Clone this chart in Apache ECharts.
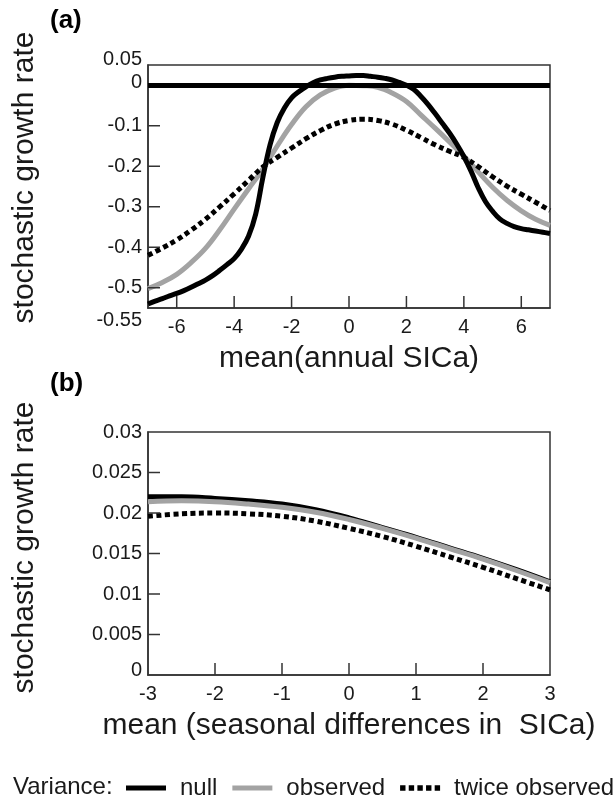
<!DOCTYPE html>
<html>
<head>
<meta charset="utf-8">
<script src="https://cdn.jsdelivr.net/npm/echarts@6/dist/echarts.min.js"></script>
<style>
html,body{margin:0;padding:0;background:#fff;}
#chart{width:616px;height:801px;}
</style>
</head>
<body>
<div id="chart"></div>
<script>
// ---------- Panel (a) data ----------
const xNullA = [-7,-6.75,-6.5,-6.25,-6,-5.75,-5.5,-5.25,-5,-4.75,-4.5,-4.25,-4,-3.75,-3.5,-3.25,-3,-2.75,-2.5,-2.25,-2,-1.75,-1.5,-1.25,-1,-0.75,-0.5,-0.25,0,0.25,0.5,0.75,1,1.25,1.5,1.75,2,2.25,2.5,2.75,3,3.25,3.5,3.75,4,4.25,4.5,4.75,5,5.25,5.5,5.75,6,6.25,6.5,6.75,7];
const nullA = [-0.540,-0.533,-0.527,-0.520,-0.514,-0.507,-0.499,-0.490,-0.481,-0.470,-0.457,-0.443,-0.428,-0.405,-0.373,-0.318,-0.228,-0.147,-0.092,-0.056,-0.031,-0.016,-0.004,0.006,0.013,0.017,0.020,0.022,0.023,0.024,0.024,0.022,0.020,0.017,0.013,0.007,0.000,-0.010,-0.027,-0.047,-0.070,-0.094,-0.118,-0.145,-0.176,-0.212,-0.253,-0.287,-0.311,-0.330,-0.341,-0.349,-0.354,-0.357,-0.360,-0.363,-0.366];
const xA = [-7,-6.5,-6,-5.5,-5,-4.5,-4,-3.5,-3,-2.5,-2,-1.5,-1,-0.5,0,0.5,1,1.5,2,2.5,3,3.5,4,4.5,5,5.5,6,6.5,7];
const observedA = [-0.502,-0.487,-0.467,-0.438,-0.403,-0.357,-0.306,-0.256,-0.207,-0.150,-0.097,-0.053,-0.024,-0.007,0.000,-0.001,-0.005,-0.019,-0.040,-0.073,-0.106,-0.140,-0.175,-0.214,-0.252,-0.284,-0.310,-0.331,-0.346];
const twiceA = [-0.420,-0.402,-0.382,-0.358,-0.331,-0.300,-0.268,-0.235,-0.202,-0.178,-0.155,-0.132,-0.112,-0.096,-0.087,-0.084,-0.087,-0.096,-0.111,-0.129,-0.147,-0.163,-0.178,-0.201,-0.226,-0.249,-0.269,-0.289,-0.309];
const xRangeA = [-7, 7];
const yRangeA = [-0.55, 0.05];
const xTicksA = [-6,-4,-2,0,2,4,6];
const yLabelsA = [0.05,0,-0.1,-0.2,-0.3,-0.4,-0.5,-0.55];
const yTicksA = [-0.1,-0.2,-0.3,-0.4,-0.5];

// ---------- Panel (b) data ----------
const xB = [-3,-2.5,-2,-1.5,-1,-0.5,0,0.5,1,1.5,2,2.5,3];
const nullB = [0.0220,0.0220,0.0218,0.0215,0.0211,0.0204,0.0194,0.0182,0.0170,0.0157,0.0144,0.0130,0.0115];
const observedB = [0.0214,0.0215,0.0214,0.0211,0.0207,0.0201,0.0192,0.0181,0.0169,0.0156,0.0143,0.0129,0.0114];
const twiceB = [0.0196,0.0199,0.0200,0.0199,0.0196,0.0190,0.0181,0.0171,0.0159,0.0146,0.0133,0.0119,0.0105];
const xRangeB = [-3, 3];
const yRangeB = [0, 0.03];
const xLabelsB = [-3,-2,-1,0,1,2,3];
const xTicksB = [-2,-1,0,1,2];
const yLabelsB = [0,0.005,0.01,0.015,0.02,0.025,0.03];
const yTicksB = [0.005,0.01,0.015,0.02,0.025];

const FONT = "'Liberation Sans', Arial, Helvetica, sans-serif";
const TXT = '#1a1a1a';
const AX = '#333';
const GRAY = '#a3a3a3';
const TICK_LEN = 12;

function pairs(xs, ys){ return xs.map((x,i)=>[x, ys[i]]); }

const richShift = {
  up6:{padding:[0,0,12,0], fontFamily:FONT, fontSize:20, color:TXT},
  up3:{padding:[0,0,6,0], fontFamily:FONT, fontSize:20, color:TXT},
  up5:{padding:[0,0,10,0], fontFamily:FONT, fontSize:20, color:TXT},
  dn12:{padding:[24,0,0,0], fontFamily:FONT, fontSize:20, color:TXT}
};
const lineStyleAx = {color:AX, width:1.5};

function mainAxis(grid, range, pos, labels, name, gap, namePad, fmt){
  return {
    type:'value', gridIndex:grid, min:range[0], max:range[1], position:pos,
    name, nameLocation:'middle', nameGap:gap,
    nameTextStyle:{fontFamily:FONT, fontSize:30, color:TXT, padding:[0,0,0,namePad]},
    splitLine:{show:false},
    axisLine:{show:true, onZero:false, lineStyle:lineStyleAx},
    axisTick:{show:false},
    axisLabel:{customValues:labels, margin:(pos === 'left' ? 6 : 9), fontFamily:FONT, fontSize:20, color:TXT,
      rich:richShift, formatter: fmt || (v => String(v))}
  };
}

// inward tick marks, placed through the axes' own scales (api.coord)
function tickSeries(grid, values, dim, otherMin){
  return {
    type:'custom', xAxisIndex:grid, yAxisIndex:grid, silent:true, clip:false, z:5,
    data: values.map(v => dim === 'x' ? [v, otherMin] : [otherMin, v]),
    renderItem: (params, api) => {
      const p = api.coord([api.value(0), api.value(1)]);
      const shape = dim === 'x'
        ? {x1:p[0], y1:p[1], x2:p[0], y2:p[1] - TICK_LEN}
        : {x1:p[0], y1:p[1], x2:p[0] + TICK_LEN, y2:p[1]};
      return {type:'line', shape, style:{stroke:AX, lineWidth:1.5}};
    }
  };
}

const chart = echarts.init(document.getElementById('chart'), null, {renderer:'canvas'});
const option = {
  animation:false,
  backgroundColor:'#fff',
  grid:[
    {left:148, top:65, width:402, height:243, show:true, borderColor:AX, borderWidth:1.5, backgroundColor:'transparent'},
    {left:148, top:432, width:402, height:243, show:true, borderColor:AX, borderWidth:1.5, backgroundColor:'transparent'}
  ],
  xAxis:[
    mainAxis(0, xRangeA, 'bottom', xTicksA, 'mean(annual SICa)', 36, 0),
    mainAxis(1, xRangeB, 'bottom', xLabelsB, 'mean (seasonal differences in  SICa)', 36, 0)
  ],
  yAxis:[
    mainAxis(0, yRangeA, 'left', yLabelsA, 'stochastic growth rate', 108, 18, v => {
      const s = String(v);
      if (Math.abs(v - 0.05) < 1e-9) return '{up6|' + s + '}';
      if (v === 0) return '{up3|' + s + '}';
      if (Math.abs(v + 0.55) < 1e-9) return '{dn12|' + s + '}';
      return s;
    }),
    mainAxis(1, yRangeB, 'left', yLabelsB, 'stochastic growth rate', 108, 12, v => {
      const s = String(v);
      return v === 0 ? '{up5|' + s + '}' : s;
    })
  ],
  legend:{
    data:[
      {name:'null', icon:'path://M0,0H40V5H0Z'},
      {name:'observed', icon:'path://M0,0H40V5H0Z'},
      {name:'twice observed', icon:'path://M0,0H5V5H0Z M8,0H13V5H8Z M16,0H21V5H16Z M24,0H29V5H24Z M32,0H37V5H32Z'}
    ],
    left:126, top:776, padding:0, itemWidth:40, itemHeight:14, itemGap:15,
    selectedMode:false,
    textStyle:{fontFamily:FONT, fontSize:24, color:TXT, padding:[0,0,0,9]}
  },
  graphic:[
    {type:'text', left:50, top:8, style:{text:'(a)', font:"bold 26px "+FONT, fill:'#000'}},
    {type:'text', left:50, top:371, style:{text:'(b)', font:"bold 26px "+FONT, fill:'#000'}},
    {type:'text', left:13, top:775, style:{text:'Variance:', font:"24px "+FONT, fill:TXT}}
  ],
  series:[
    {name:'observed', type:'line', xAxisIndex:0, yAxisIndex:0, data:pairs(xA, observedA), smooth:0.4, symbol:'none', silent:true,
     itemStyle:{color:GRAY}, lineStyle:{color:GRAY, width:5}},
    {name:'null', type:'line', xAxisIndex:0, yAxisIndex:0, data:pairs(xNullA, nullA), smooth:0.4, symbol:'none', silent:true,
     itemStyle:{color:'#000'}, lineStyle:{color:'#000', width:5},
     markLine:{silent:true, symbol:'none', label:{show:false}, lineStyle:{color:'#000', width:5, type:'solid'}, data:[{yAxis:0}]}},
    {name:'twice observed', type:'line', xAxisIndex:0, yAxisIndex:0, data:pairs(xA, twiceA), smooth:0.4, symbol:'none', silent:true,
     itemStyle:{color:'#000'}, lineStyle:{color:'#000', width:5, type:[5,3.5], cap:'butt'}},
    {name:'null', type:'line', xAxisIndex:1, yAxisIndex:1, data:pairs(xB, nullB), smooth:0.4, symbol:'none', silent:true,
     itemStyle:{color:'#000'}, lineStyle:{color:'#000', width:5}},
    {name:'observed', type:'line', xAxisIndex:1, yAxisIndex:1, data:pairs(xB, observedB), smooth:0.4, symbol:'none', silent:true,
     itemStyle:{color:GRAY}, lineStyle:{color:GRAY, width:5}},
    {name:'twice observed', type:'line', xAxisIndex:1, yAxisIndex:1, data:pairs(xB, twiceB), smooth:0.4, symbol:'none', silent:true,
     itemStyle:{color:'#000'}, lineStyle:{color:'#000', width:5, type:[5,3.5], cap:'butt'}},
    tickSeries(0, xTicksA, 'x', yRangeA[0]),
    tickSeries(0, yTicksA, 'y', xRangeA[0]),
    tickSeries(1, xTicksB, 'x', yRangeB[0]),
    tickSeries(1, yTicksB, 'y', xRangeB[0])
  ]
};
chart.setOption(option);
</script>
</body>
</html>
